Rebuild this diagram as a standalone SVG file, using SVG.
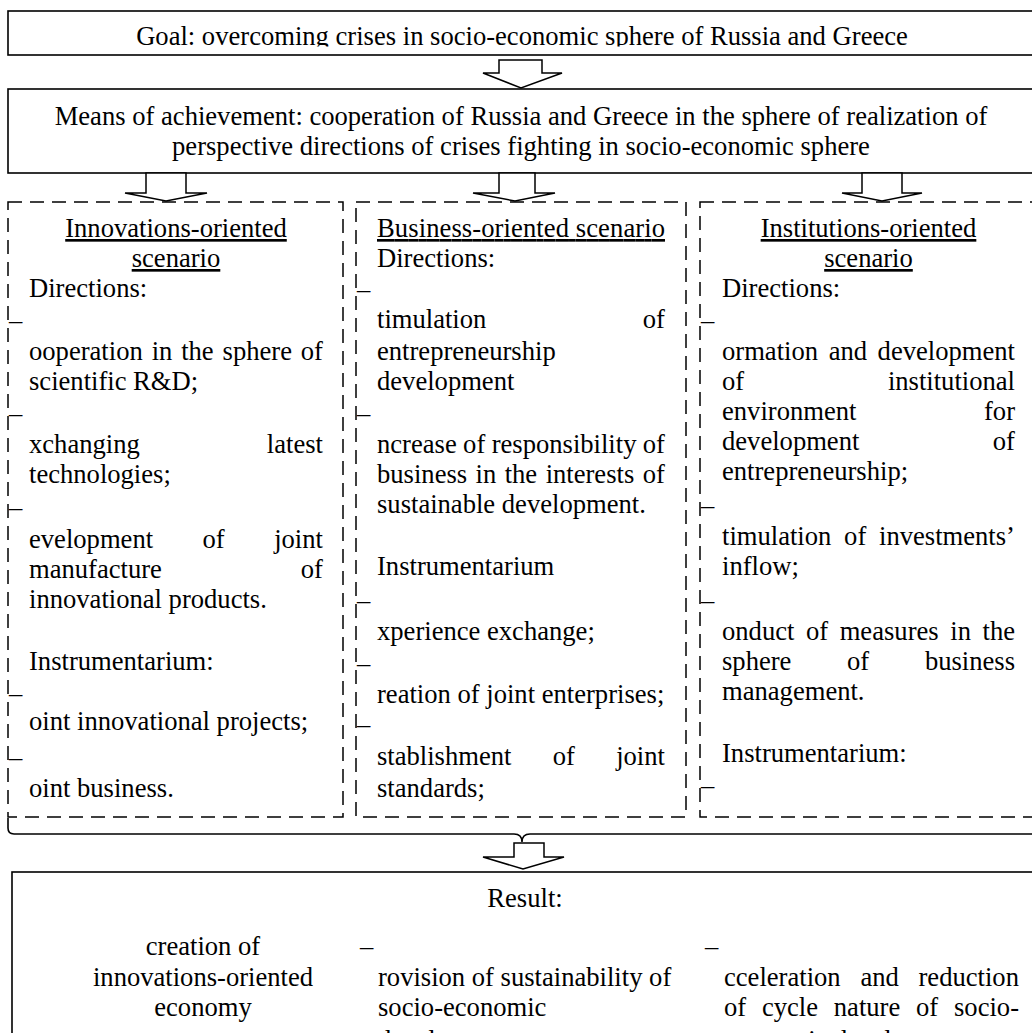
<svg xmlns="http://www.w3.org/2000/svg" width="1032" height="1033" viewBox="0 0 1032 1033">
<style>
.t{font-family:"Liberation Serif","Times New Roman",serif;font-size:26.6px;fill:#000}
.m{text-anchor:middle}
.u{text-decoration:underline}
.box{fill:#fff;stroke:#000;stroke-width:1.6}
.dbox{fill:none;stroke:#000;stroke-width:1.5;stroke-dasharray:14 8}
.arr{fill:#fff;stroke:#000;stroke-width:1.5;stroke-linejoin:miter}
.brace{fill:none;stroke:#000;stroke-width:1.6}
</style>
<defs>
<clipPath id="goalclip"><rect x="0" y="11" width="1032" height="35.5"/></clipPath>
</defs>
<rect width="1032" height="1033" fill="#fff"/>

<g id="goal">
<rect class="box" x="8" y="11" width="1100" height="44"/>
<text class="t m" x="522" y="45" clip-path="url(#goalclip)">Goal: overcoming crises in socio-economic sphere of Russia and Greece</text>
</g>

<g id="means">
<rect class="box" x="8" y="89" width="1100" height="84"/>
<text class="t m" x="521" y="125">Means of achievement: cooperation of Russia and Greece in the sphere of realization of</text>
<text class="t m" x="521" y="155">perspective directions of crises fighting in socio-economic sphere</text>
</g>

<g id="scenario-innovations">
<rect class="dbox" x="8" y="202" width="335" height="615"/>
<text class="t m u" x="176" y="237">Innovations-oriented</text>
<text class="t m u" x="176" y="267">scenario</text>
<text class="t" x="29" y="297">Directions:</text>
<text class="t" x="9" y="329">–</text>
<text class="t" y="360"><tspan x="29">ooperation</tspan><tspan x="151.65">in</tspan><tspan x="181.2">the</tspan><tspan x="222.55">sphere</tspan><tspan x="300.8">of</tspan></text>
<text class="t" x="29" y="390">scientific R&amp;D;</text>
<text class="t" x="9" y="422">–</text>
<text class="t" y="453"><tspan x="29">xchanging</tspan><tspan x="266.85">latest</tspan></text>
<text class="t" x="29" y="483">technologies;</text>
<text class="t" x="9" y="516">–</text>
<text class="t" y="548"><tspan x="29">evelopment</tspan><tspan x="202.55">of</tspan><tspan x="274.2">joint</tspan></text>
<text class="t" y="578"><tspan x="29">manufacture</tspan><tspan x="300.8">of</tspan></text>
<text class="t" x="29" y="608">innovational products.</text>
<text class="t" x="29" y="670">Instrumentarium:</text>
<text class="t" x="9" y="702">–</text>
<text class="t" x="29" y="730">oint innovational projects;</text>
<text class="t" x="9" y="766">–</text>
<text class="t" x="29" y="797">oint business.</text>
</g>

<g id="scenario-business">
<rect class="dbox" x="356" y="202" width="330" height="615"/>
<text class="t u" x="377" y="237" textLength="288" lengthAdjust="spacing">Business-oriented scenario</text>
<text class="t" x="377" y="267">Directions:</text>
<text class="t" x="357" y="298">–</text>
<text class="t" y="328"><tspan x="377">timulation</tspan><tspan x="642.8">of</tspan></text>
<text class="t" x="377" y="360">entrepreneurship</text>
<text class="t" x="377" y="390">development</text>
<text class="t" x="357" y="422">–</text>
<text class="t" y="453"><tspan x="377">ncrease</tspan><tspan x="463.1">of</tspan><tspan x="491.65">responsibility</tspan><tspan x="642.8">of</tspan></text>
<text class="t" y="483"><tspan x="377">business</tspan><tspan x="475.55">in</tspan><tspan x="504.7">the</tspan><tspan x="545.65">interests</tspan><tspan x="642.8">of</tspan></text>
<text class="t" x="377" y="513">sustainable development.</text>
<text class="t" x="377" y="575">Instrumentarium</text>
<text class="t" x="357" y="609">–</text>
<text class="t" x="377" y="640">xperience exchange;</text>
<text class="t" x="357" y="672">–</text>
<text class="t" x="377" y="703">reation of joint enterprises;</text>
<text class="t" x="357" y="733">–</text>
<text class="t" y="765"><tspan x="377">stablishment</tspan><tspan x="552.75">of</tspan><tspan x="616.2">joint</tspan></text>
<text class="t" x="377" y="797">standards;</text>
</g>

<g id="scenario-institutions">
<rect class="dbox" x="700" y="202" width="400" height="615"/>
<text class="t m u" x="868.5" y="237">Institutions-oriented</text>
<text class="t m u" x="868.5" y="267">scenario</text>
<text class="t" x="722" y="297">Directions:</text>
<text class="t" x="701" y="329">–</text>
<text class="t" y="360"><tspan x="722">ormation</tspan><tspan x="828.65">and</tspan><tspan x="877.6">development</tspan></text>
<text class="t" y="390"><tspan x="722">of</tspan><tspan x="887.9">institutional</tspan></text>
<text class="t" y="420"><tspan x="722">environment</tspan><tspan x="984">for</tspan></text>
<text class="t" y="450"><tspan x="722">development</tspan><tspan x="992.8">of</tspan></text>
<text class="t" x="722" y="480">entrepreneurship;</text>
<text class="t" x="701" y="514">–</text>
<text class="t" y="545"><tspan x="722">timulation</tspan><tspan x="844.1">of</tspan><tspan x="879.05">investments’</tspan></text>
<text class="t" x="722" y="575">inflow;</text>
<text class="t" x="701" y="609">–</text>
<text class="t" y="640"><tspan x="722">onduct</tspan><tspan x="805.95">of</tspan><tspan x="839.7">measures</tspan><tspan x="950.25">in</tspan><tspan x="982.5">the</tspan></text>
<text class="t" y="670"><tspan x="722">sphere</tspan><tspan x="847.05">of</tspan><tspan x="924.9">business</tspan></text>
<text class="t" x="722" y="700">management.</text>
<text class="t" x="722" y="762">Instrumentarium:</text>
<text class="t" x="701" y="794">–</text>
</g>

<g id="result">
<rect class="box" x="12" y="872" width="1100" height="200"/>
<text class="t m" x="525" y="907">Result:</text>
<text class="t m" x="203" y="955">creation of</text>
<text class="t m" x="203" y="986">innovations-oriented</text>
<text class="t m" x="203" y="1016">economy</text>
<text class="t" x="360" y="955">–</text>
<text class="t" x="378" y="986">rovision of sustainability of</text>
<text class="t" x="378" y="1016">socio-economic</text>
<text class="t" x="378" y="1049">development</text>
<text class="t" x="705" y="955">–</text>
<text class="t" y="986"><tspan x="724">cceleration</tspan><tspan x="860.4">and</tspan><tspan x="918.5">reduction</tspan></text>
<text class="t" y="1016"><tspan x="724">of</tspan><tspan x="761.95">cycle</tspan><tspan x="833.8">nature</tspan><tspan x="916.05">of</tspan><tspan x="954">socio-</tspan></text>
<text class="t" x="724" y="1049">economic development</text>
</g>

<g id="connectors">
<polygon class="arr" points="499,60 542,60 542,73 562,73 521,88 483,73 499,73"/>
<polygon class="arr" points="146,173 186,173 186,193 207,193 166,201 125,193 146,193"/>
<polygon class="arr" points="499,173 535,173 535,193 555,193 515,201 473,193 499,193"/>
<polygon class="arr" points="862,173 902,173 902,193 922,193 882,201 842,193 862,193"/>
<path class="brace" d="M8 818 L8 828 Q8 834 14 834 L514 834 Q522 834 522 842 Q522 834 530 834 L1040 834"/>
<polygon class="arr" points="514,843 544,843 544,857 564,857 523,869 483,857 514,857"/>
</g>
</svg>
